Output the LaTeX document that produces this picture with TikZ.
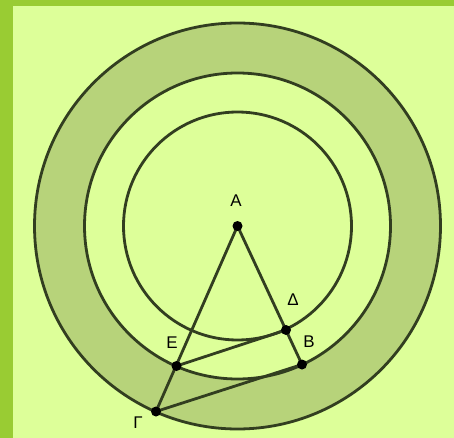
\documentclass[tikz,border=0pt]{standalone}
\usepackage{fontspec}
\setmainfont{Liberation Sans}
\definecolor{bgc}{RGB}{221,255,153}
\definecolor{borderc}{RGB}{153,204,51}
\definecolor{ringc}{RGB}{183,211,122}
\definecolor{inkc}{RGB}{50,62,32}
\tikzset{
  circ/.style={draw=inkc,line width=2.8bp},
  seg/.style={draw=inkc,line width=2.8bp,line cap=round},
  dot/.style={circle,fill=black,inner sep=0pt,minimum size=10bp},
  lbl/.style={font=\fontsize{17}{19}\selectfont,text=black,inner sep=0pt}
}
\begin{document}
\begin{tikzpicture}[x=1bp,y=-1bp]
\useasboundingbox (0,0) rectangle (454,438);
\fill[bgc] (0,0) rectangle (454,438);
\fill[borderc] (0,0) rectangle (454,6);
\fill[borderc] (0,0) rectangle (13,438);
% points
\coordinate (A) at (237.5,226);
\coordinate (D) at (286,330);
\coordinate (B) at (302,364.5);
\coordinate (E) at (176.5,366);
\coordinate (G) at (156,411.5);
% ring
\fill[ringc] (A) circle[radius=203];
\fill[bgc] (A) circle[radius=153];
\draw[circ] (A) circle[radius=203];
\draw[circ] (A) circle[radius=153];
\draw[circ] (A) circle[radius=114];
% segments
\draw[seg] (A) -- (G);
\draw[seg] (A) -- (B);
\draw[seg] (E) -- (D);
\draw[seg] (G) -- (B);
% dots
\node[dot] (nA) at (A) {};
\node[dot] (nD) at (D) {};
\node[dot] (nB) at (B) {};
\node[dot] (nE) at (E) {};
\node[dot] (nG) at (G) {};
% labels
\node[lbl] (lA) at (236,201) {A};
\node[lbl] (lD) at (293,300) {Δ};
\node[lbl] (lB) at (309,342) {B};
\node[lbl] (lE) at (172,343) {E};
\node[lbl] (lG) at (138,423) {Γ};
\end{tikzpicture}
\end{document}
